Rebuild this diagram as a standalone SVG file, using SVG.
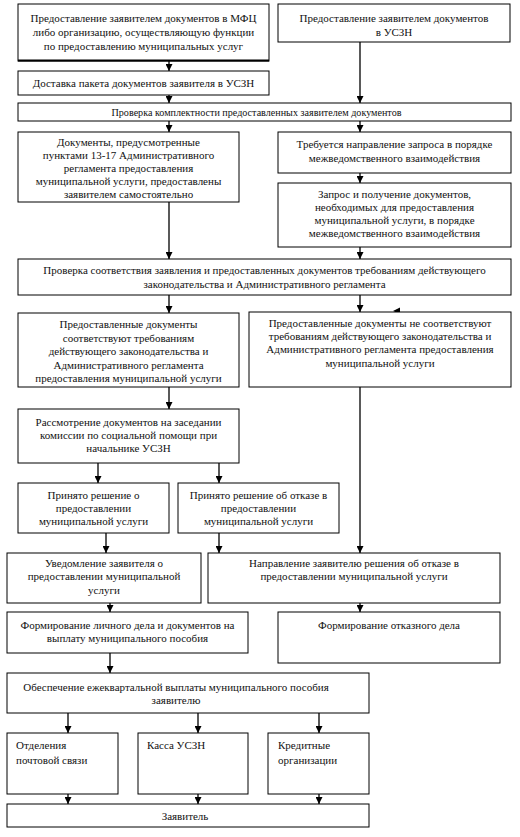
<svg xmlns="http://www.w3.org/2000/svg" width="520" height="837" viewBox="0 0 520 837">
<style>
.b{fill:#fff;stroke:#000;stroke-width:1}
.t{font-family:"Liberation Serif","Times New Roman",serif;font-size:11px;fill:#111;text-anchor:middle}
.l{text-anchor:start}
.c{stroke:#000;stroke-width:1.3;fill:none}
</style>
<defs>
<marker id="ah" viewBox="0 0 8 8" refX="8" refY="4" markerWidth="7" markerHeight="7" markerUnits="userSpaceOnUse" orient="auto">
<path d="M0,0 L8,4 L0,8 z" fill="#000"/>
</marker>
</defs>
<rect width="520" height="837" fill="#fff"/>

<g id="connectors">
<line class="c" x1="169" y1="61" x2="169" y2="71" marker-end="url(#ah)"/>
<line class="c" x1="259" y1="50" x2="259" y2="60" marker-end="url(#ah)"/>
<line class="c" x1="169" y1="95" x2="169" y2="103" marker-end="url(#ah)"/>
<line class="c" x1="360" y1="42" x2="360" y2="103" marker-end="url(#ah)"/>
<line class="c" x1="169" y1="121" x2="169" y2="132" marker-end="url(#ah)"/>
<line class="c" x1="360" y1="121" x2="360" y2="132" marker-end="url(#ah)"/>
<line class="c" x1="360" y1="173" x2="360" y2="183" marker-end="url(#ah)"/>
<line class="c" x1="169" y1="202" x2="169" y2="259" marker-end="url(#ah)"/>
<line class="c" x1="360" y1="247" x2="360" y2="259" marker-end="url(#ah)"/>
<line class="c" x1="169" y1="295" x2="169" y2="313" marker-end="url(#ah)"/>
<line class="c" x1="360" y1="295" x2="360" y2="312" marker-end="url(#ah)"/>
<path d="M393,311 L400,307.5 L400,314 z" fill="#000"/>
<line class="c" x1="169" y1="387" x2="169" y2="409" marker-end="url(#ah)"/>
<line class="c" x1="360" y1="387" x2="360" y2="553" marker-end="url(#ah)"/>
<line class="c" x1="98" y1="463" x2="98" y2="483" marker-end="url(#ah)"/>
<line class="c" x1="219" y1="463" x2="219" y2="483" marker-end="url(#ah)"/>
<line class="c" x1="106" y1="533" x2="106" y2="553" marker-end="url(#ah)"/>
<line class="c" x1="219" y1="533" x2="219" y2="553" marker-end="url(#ah)"/>
<line class="c" x1="110" y1="603" x2="110" y2="612" marker-end="url(#ah)"/>
<line class="c" x1="360" y1="603" x2="360" y2="612" marker-end="url(#ah)"/>
<line class="c" x1="110" y1="653" x2="110" y2="673" marker-end="url(#ah)"/>
<line class="c" x1="68" y1="713" x2="68" y2="733" marker-end="url(#ah)"/>
<line class="c" x1="198" y1="713" x2="198" y2="733" marker-end="url(#ah)"/>
<line class="c" x1="319" y1="713" x2="319" y2="733" marker-end="url(#ah)"/>
<line class="c" x1="68" y1="794" x2="68" y2="804" marker-end="url(#ah)"/>
<line class="c" x1="198" y1="794" x2="198" y2="804" marker-end="url(#ah)"/>
<line class="c" x1="319" y1="794" x2="319" y2="804" marker-end="url(#ah)"/>
</g>

<g id="n1">
<rect class="b" x="18" y="4" width="251" height="57"/>
<line x1="18" y1="60.5" x2="269" y2="60.5" stroke="#000" stroke-width="2"/>
<text class="t" x="143.5" y="21.5">Предоставление заявителем документов в МФЦ</text>
<text class="t" x="143.5" y="35.5">либо организацию, осуществляющую функции</text>
<text class="t" x="143.5" y="49.5">по предоставлению муниципальных услуг</text>
</g>
<g id="n2">
<rect class="b" x="278" y="4" width="232" height="38"/>
<text class="t" x="394" y="21.5">Предоставление заявителем документов</text>
<text class="t" x="394" y="36">в УСЗН</text>
</g>
<g id="n3">
<rect class="b" x="18" y="71" width="251" height="24"/>
<text class="t" x="143.5" y="86.5">Доставка пакета документов заявителя в УСЗН</text>
</g>
<g id="n4">
<rect class="b" x="18" y="103" width="493" height="18"/>
<text class="t" x="256.5" y="115.5" textLength="290" lengthAdjust="spacingAndGlyphs">Проверка комплектности предоставленных заявителем документов</text>
</g>
<g id="n5">
<rect class="b" x="18" y="132" width="221" height="70"/>
<text class="t" x="128.5" y="145.5">Документы, предусмотренные</text>
<text class="t" x="128.5" y="158.5">пунктами 13-17 Административного</text>
<text class="t" x="128.5" y="171.5">регламента предоставления</text>
<text class="t" x="128.5" y="184.5">муниципальной услуги, предоставлены</text>
<text class="t" x="128.5" y="197.5">заявителем самостоятельно</text>
</g>
<g id="n6">
<rect class="b" x="278" y="132" width="233" height="41"/>
<text class="t" x="394.5" y="147.5">Требуется направление запроса в порядке</text>
<text class="t" x="394.5" y="161.5">межведомственного взаимодействия</text>
</g>
<g id="n7">
<rect class="b" x="278" y="183" width="233" height="64"/>
<text class="t" x="394.5" y="197.5">Запрос и получение документов,</text>
<text class="t" x="394.5" y="210.5">необходимых для предоставления</text>
<text class="t" x="394.5" y="223.5">муниципальной услуги, в порядке</text>
<text class="t" x="394.5" y="236.5">межведомственного взаимодействия</text>
</g>
<g id="n8">
<rect class="b" x="18" y="259" width="493" height="36"/>
<text class="t" x="264.5" y="273.5">Проверка соответствия заявления и предоставленных документов требованиям действующего</text>
<text class="t" x="264.5" y="287.5">законодательства и Административного регламента</text>
</g>
<g id="n9">
<rect class="b" x="18" y="313" width="221" height="74"/>
<text class="t" x="128.5" y="328">Предоставленные документы</text>
<text class="t" x="128.5" y="341.5">соответствуют  требованиям</text>
<text class="t" x="128.5" y="355">действующего законодательства  и</text>
<text class="t" x="128.5" y="368.5">Административного регламента</text>
<text class="t" x="128.5" y="382">предоставления муниципальной услуги</text>
</g>
<g id="n10">
<rect class="b" x="249" y="312" width="262" height="75"/>
<text class="t" x="380" y="326.5">Предоставленные документы не соответствуют</text>
<text class="t" x="380" y="340">требованиям действующего законодательства и</text>
<text class="t" x="380" y="353">Административного регламента предоставления</text>
<text class="t" x="380" y="366.5">муниципальной услуги</text>
</g>
<g id="n11">
<rect class="b" x="18" y="409" width="221" height="54"/>
<text class="t" x="128.5" y="425.5">Рассмотрение документов на заседании</text>
<text class="t" x="128.5" y="438.5">комиссии по социальной помощи при</text>
<text class="t" x="128.5" y="451.5">начальнике УСЗН</text>
</g>
<g id="n12">
<rect class="b" x="18" y="483" width="151" height="50"/>
<text class="t" x="93.5" y="498.5">Принято решение о</text>
<text class="t" x="93.5" y="511.5">предоставлении</text>
<text class="t" x="93.5" y="525">муниципальной услуги</text>
</g>
<g id="n13">
<rect class="b" x="178" y="483" width="161" height="50"/>
<text class="t" x="258.5" y="498.5">Принято решение об отказе в</text>
<text class="t" x="258.5" y="511.5">предоставлении</text>
<text class="t" x="258.5" y="525">муниципальной услуги</text>
</g>
<g id="n14">
<rect class="b" x="7" y="553" width="194" height="50"/>
<text class="t" x="104" y="566.5">Уведомление заявителя о</text>
<text class="t" x="104" y="580">предоставлении муниципальной</text>
<text class="t" x="104" y="593.5">услуги</text>
</g>
<g id="n15">
<rect class="b" x="208" y="553" width="292" height="50"/>
<text class="t" x="354" y="566.5">Направление заявителю решения об отказе в</text>
<text class="t" x="354" y="580">предоставлении муниципальной услуги</text>
</g>
<g id="n16">
<rect class="b" x="7" y="612" width="241" height="41"/>
<text class="t" x="127.5" y="628.5">Формирование личного дела и документов на</text>
<text class="t" x="127.5" y="641.5">выплату муниципального пособия</text>
</g>
<g id="n17">
<rect class="b" x="278" y="612" width="222" height="51"/>
<text class="t" x="389" y="628.5">Формирование отказного дела</text>
</g>
<g id="n18">
<rect class="b" x="7" y="673" width="362" height="40"/>
<text class="t" x="176" y="690.5">Обеспечение ежеквартальной выплаты муниципального пособия</text>
<text class="t" x="176" y="703.5">заявителю</text>
</g>
<g id="n19">
<rect class="b" x="7" y="733" width="111" height="61"/>
<text class="t l" x="16" y="748.5">Отделения</text>
<text class="t l" x="16" y="763.5">почтовой связи</text>
</g>
<g id="n20">
<rect class="b" x="138" y="733" width="110" height="61"/>
<text class="t l" x="147" y="748.5">Касса УСЗН</text>
</g>
<g id="n21">
<rect class="b" x="268" y="733" width="101" height="61"/>
<text class="t l" x="278" y="748.5">Кредитные</text>
<text class="t l" x="278" y="763.5">организации</text>
</g>
<g id="n22">
<rect class="b" x="7" y="804" width="362" height="23"/>
<text class="t" x="185" y="819.5">Заявитель</text>
</g>
</svg>
